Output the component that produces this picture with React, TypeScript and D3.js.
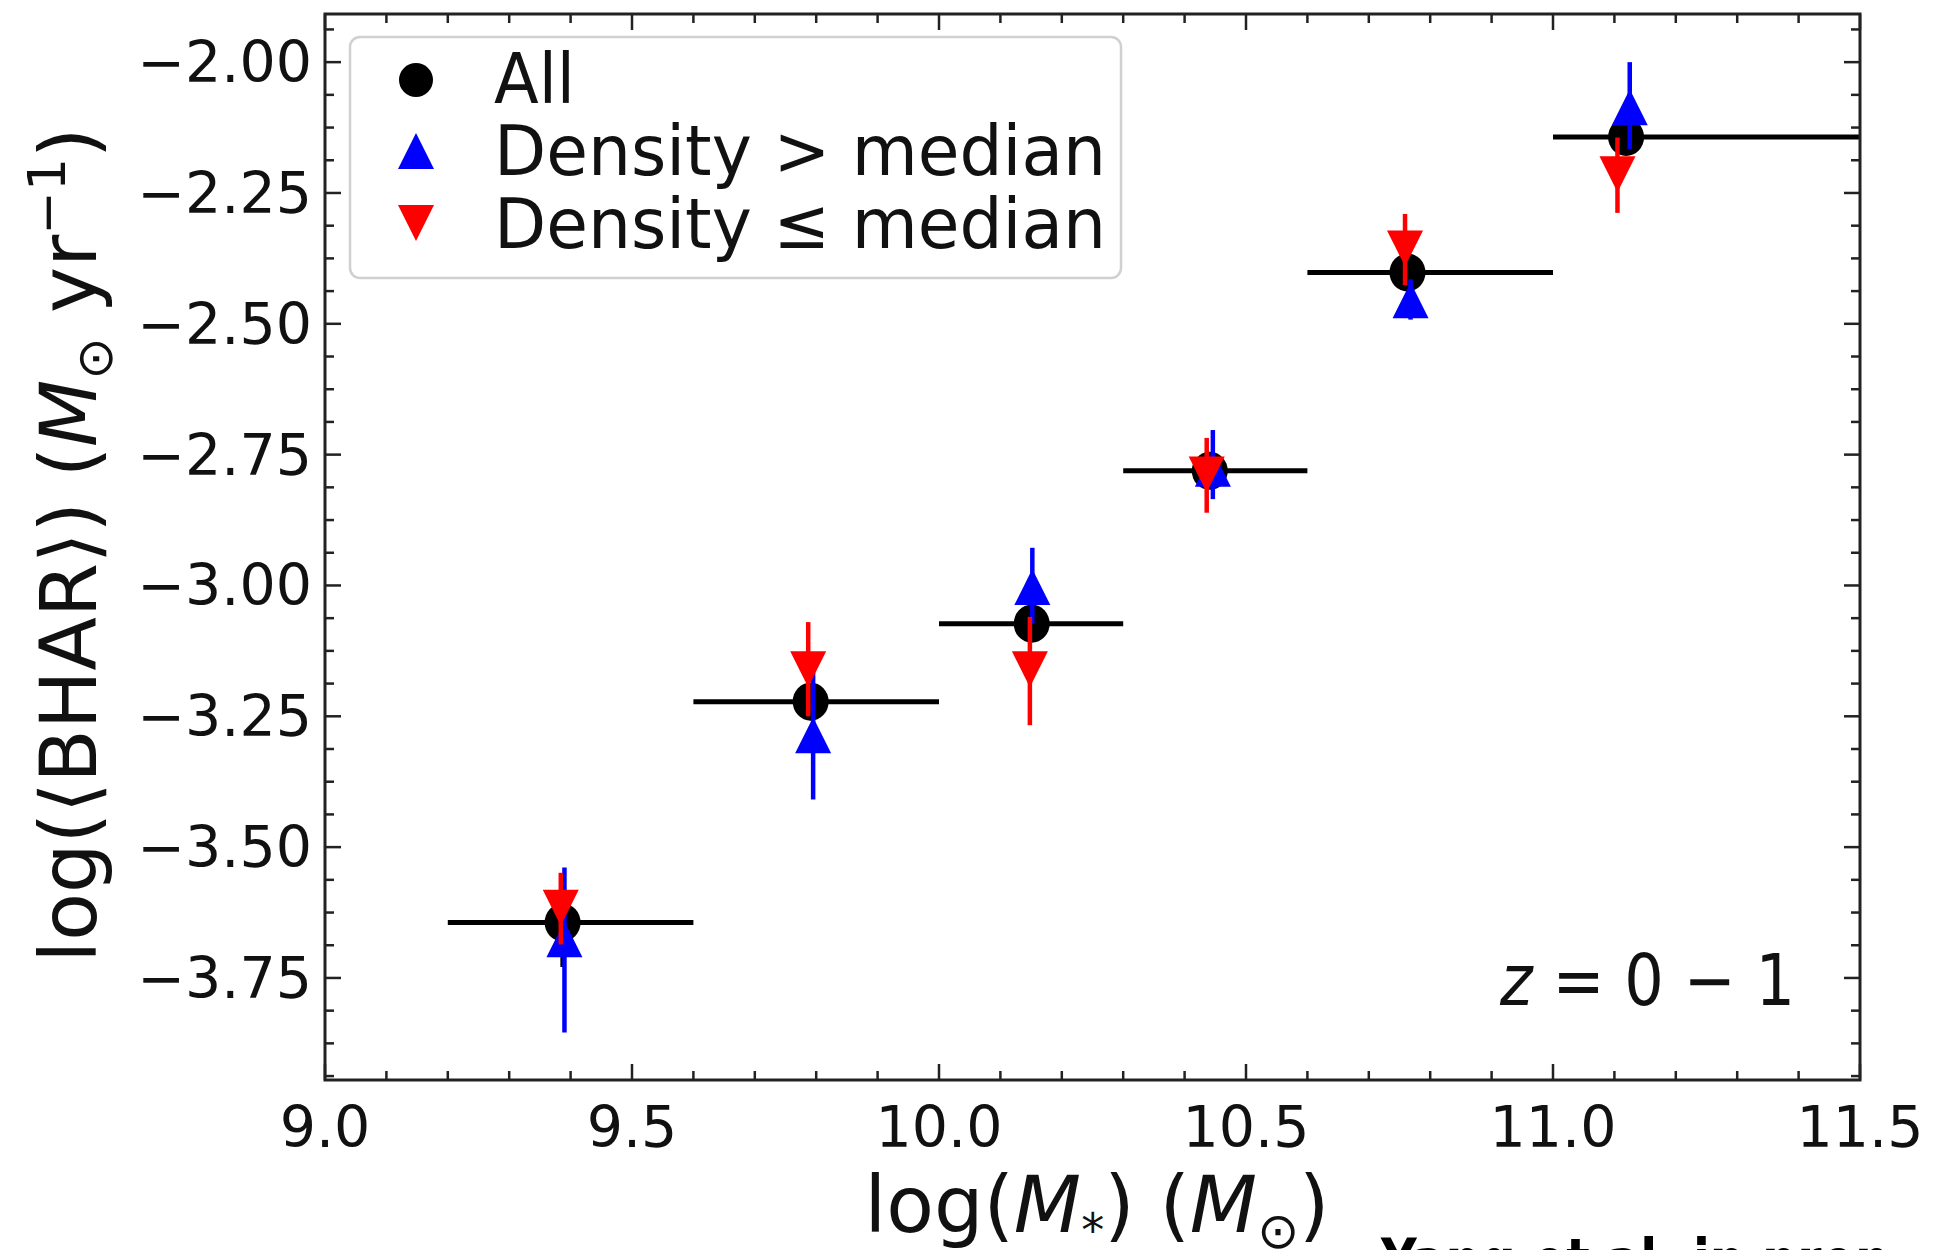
import React from "react";
import * as d3 from "d3";

// ---- Data ----
const binLo = [9.2, 9.6, 10.0, 10.3, 10.6, 11.0];
const binHi = [9.6, 10.0, 10.3, 10.6, 11.0, 11.5];

const allX = [9.387, 9.791, 10.151, 10.441, 10.763, 11.119];
const allY = [-3.644, -3.222, -3.073, -2.781, -2.402, -2.143];
const allYErr = [0.085, 0.03, 0.03, 0.03, 0.03, 0.03];

const hiDensX = [9.39, 9.795, 10.152, 10.446, 10.768, 11.125];
const hiDensY = [-3.676, -3.286, -3.003, -2.777, -2.455, -2.086];
const hiDensErrLo = [0.178, 0.123, 0.07, 0.058, 0.037, 0.08];
const hiDensErrHi = [0.137, 0.12, 0.075, 0.074, 0.04, 0.086];

const loDensX = [9.384, 9.787, 10.148, 10.436, 10.759, 11.105];
const loDensY = [-3.616, -3.16, -3.16, -2.788, -2.356, -2.214];
const loDensErrLo = [0.07, 0.09, 0.107, 0.073, 0.07, 0.074];
const loDensErrHi = [0.067, 0.09, 0.1, 0.07, 0.066, 0.07];

const xTicks = [9.0, 9.5, 10.0, 10.5, 11.0, 11.5];
const xTickLabels = ["9.0", "9.5", "10.0", "10.5", "11.0", "11.5"];
const yTicks = [-2.0, -2.25, -2.5, -2.75, -3.0, -3.25, -3.5, -3.75];
const yTickLabels = ["−2.00", "−2.25", "−2.50", "−2.75", "−3.00", "−3.25", "−3.50", "−3.75"];

const legendLabels = ["All", "Density > median", "Density ≤ median"];

// ---- Layout ----
const W = 1943;
const H = 1250;
const L = 325, R = 1860, T = 14, B = 1080;
const FONT = "DejaVu Sans";

export default function App() {
  const x = d3.scaleLinear().domain([9.0, 11.5]).range([L, R]);
  const y = d3.scaleLinear().domain([-3.945, -1.908]).range([B, T]);

  const xMinor = d3.range(90, 116, 1).map((v) => v / 10).filter((v) => !xTicks.some((t) => Math.abs(t - v) < 1e-6));
  const yMinor: number[] = [];
  for (let v = -4.0; v <= -1.9; v += 0.0625) {
    if (v >= -3.945 && v <= -1.908 && !yTicks.some((t) => Math.abs(t - v) < 1e-6)) yMinor.push(v);
  }

  const tri = (cx: number, cy: number, s: number, up: boolean) => {
    const h = s / 2;
    return up
      ? `M${cx},${cy - h}L${cx - h},${cy + h}L${cx + h},${cy + h}Z`
      : `M${cx},${cy + h}L${cx - h},${cy - h}L${cx + h},${cy - h}Z`;
  };
  const MS = 36;
  const ERRW = 4.5;

  return (
    <svg width={W} height={H} style={{ position: "absolute", left: 0, top: 0, background: "#fff" }} fontFamily={FONT}>
      <rect x={0} y={0} width={W} height={H} fill="#fff" />
      {/* All series */}
      <g>
        {allX.map((xv, i) => (
          <g key={"a" + i}>
            <line x1={x(binLo[i])} x2={x(binHi[i])} y1={y(allY[i])} y2={y(allY[i])} stroke="#000" strokeWidth={5} />
            <line x1={x(xv)} x2={x(xv)} y1={y(allY[i] - allYErr[i])} y2={y(allY[i] + allYErr[i])} stroke="#000" strokeWidth={ERRW} />
            <ellipse cx={x(xv)} cy={y(allY[i])} rx={18} ry={19} fill="#000" />
          </g>
        ))}
      </g>
      {/* Density > median */}
      <g>
        {hiDensX.map((xv, i) => (
          <g key={"b" + i}>
            <line x1={x(xv)} x2={x(xv)} y1={y(hiDensY[i] - hiDensErrLo[i])} y2={y(hiDensY[i] + hiDensErrHi[i])} stroke="#0000ff" strokeWidth={ERRW} />
            <path d={tri(x(xv), y(hiDensY[i]), MS, true)} fill="#0000ff" />
          </g>
        ))}
      </g>
      {/* Density <= median */}
      <g>
        {loDensX.map((xv, i) => (
          <g key={"r" + i}>
            <line x1={x(xv)} x2={x(xv)} y1={y(loDensY[i] - loDensErrLo[i])} y2={y(loDensY[i] + loDensErrHi[i])} stroke="#ff0000" strokeWidth={ERRW} />
            <path d={tri(x(xv), y(loDensY[i]), MS, false)} fill="#ff0000" />
          </g>
        ))}
      </g>

      {/* Ticks */}
      <g stroke="#222" strokeWidth={2.5}>
        {xTicks.map((t) => (
          <g key={"xt" + t}>
            <line x1={x(t)} x2={x(t)} y1={B} y2={B - 16} />
            <line x1={x(t)} x2={x(t)} y1={T} y2={T + 16} />
          </g>
        ))}
        {xMinor.map((t) => (
          <g key={"xm" + t}>
            <line x1={x(t)} x2={x(t)} y1={B} y2={B - 9} />
            <line x1={x(t)} x2={x(t)} y1={T} y2={T + 9} />
          </g>
        ))}
        {yTicks.map((t) => (
          <g key={"yt" + t}>
            <line x1={L} x2={L + 16} y1={y(t)} y2={y(t)} />
            <line x1={R} x2={R - 16} y1={y(t)} y2={y(t)} />
          </g>
        ))}
        {yMinor.map((t) => (
          <g key={"ym" + t}>
            <line x1={L} x2={L + 9} y1={y(t)} y2={y(t)} />
            <line x1={R} x2={R - 9} y1={y(t)} y2={y(t)} />
          </g>
        ))}
      </g>
      {/* Frame */}
      <rect x={L} y={T} width={R - L} height={B - T} fill="none" stroke="#222" strokeWidth={3} />

      {/* Tick labels */}
      {xTicks.map((t, i) => (
        <text key={"xl" + t} x={x(t)} y={1147} textAnchor="middle" fontSize={57} fill="#111">
          {xTickLabels[i]}
        </text>
      ))}
      {yTicks.map((t, i) => (
        <text key={"yl" + t} x={312} y={y(t) + 20} textAnchor="end" fontSize={57} fill="#111">
          {yTickLabels[i]}
        </text>
      ))}

      {/* Axis labels */}
      <text x={1097} y={1232} textAnchor="middle" fontSize={78} fill="#111">
        log(<tspan fontStyle="italic">M</tspan>
        <tspan fontSize={46} dy={14}>*</tspan>
        <tspan dy={-14}>) (</tspan>
        <tspan fontStyle="italic">M</tspan>
        <tspan fontSize={50} dy={16}>⊙</tspan>
        <tspan dy={-16}>)</tspan>
      </text>
      <text transform="translate(96,545) rotate(-90)" textAnchor="middle" fontSize={78} fill="#111">
        log(⟨BHAR⟩) (<tspan fontStyle="italic">M</tspan>
        <tspan fontSize={50} dy={16}>⊙</tspan>
        <tspan dy={-16}> yr</tspan>
        <tspan fontSize={52} dy={-31}>−1</tspan>
        <tspan dy={31}>)</tspan>
      </text>

      {/* Redshift annotation */}
      <text x={1500} y={1005} fontSize={72} fill="#111" textLength={295} lengthAdjust="spacingAndGlyphs">
        <tspan fontStyle="italic">z</tspan> = 0 − 1
      </text>

      {/* Legend */}
      <rect x={350} y={37} width={771} height={241} rx={10} fill="#fff" fillOpacity={0.85} stroke="#d0d0d0" strokeWidth={2.5} />
      <ellipse cx={416} cy={80} rx={17} ry={17} fill="#000" />
      <path d={tri(416, 151, 36, true)} fill="#0000ff" />
      <path d={tri(416, 223, 36, false)} fill="#ff0000" />
      <text x={494} y={103} fontSize={70} fill="#111" textLength={81} lengthAdjust="spacingAndGlyphs">{legendLabels[0]}</text>
      <text x={494} y={175} fontSize={70} fill="#111" textLength={612} lengthAdjust="spacingAndGlyphs">{legendLabels[1]}</text>
      <text x={494} y={248} fontSize={70} fill="#111" textLength={612} lengthAdjust="spacingAndGlyphs">{legendLabels[2]}</text>

      {/* Credit, cut at the bottom edge */}
      <text x={1381} y={1283} fontSize={62} fontWeight={600} fill="#000" textLength={528} lengthAdjust="spacingAndGlyphs">
        Yang et al. in prep.
      </text>
    </svg>
  );
}
